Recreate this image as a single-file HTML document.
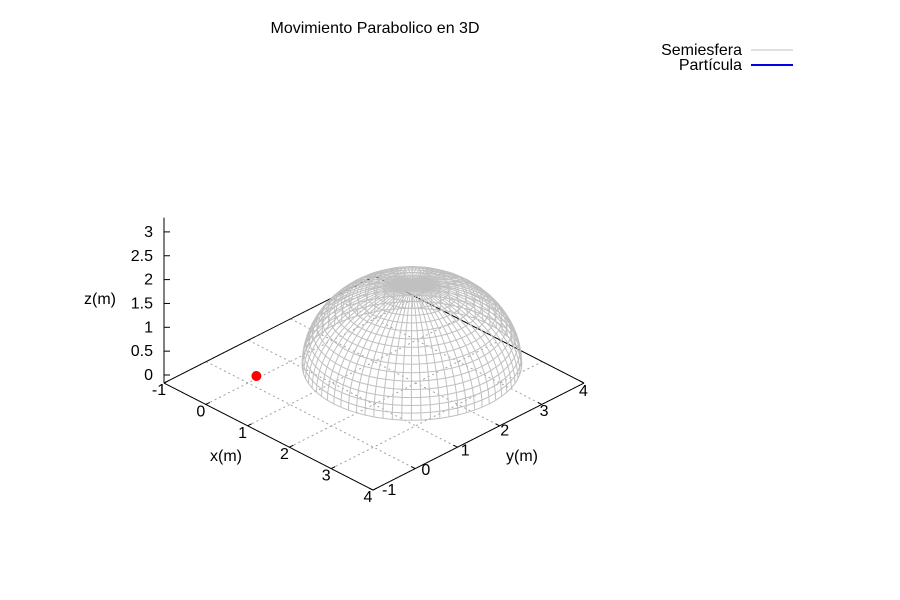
<!DOCTYPE html>
<html><head><meta charset="utf-8"><style>
body{margin:0;background:#fff}
svg{display:block;font-family:"Liberation Sans",sans-serif;font-size:16px}
</style></head><body>
<svg id="chart" width="900" height="600" viewBox="0 0 900 600">
<text x="375" y="33" text-anchor="middle">Movimiento Parabolico en 3D</text>
<g>
<text x="742" y="55" text-anchor="end">Semiesfera</text>
<line x1="751" y1="50" x2="793" y2="50" stroke="#c0c0c0" stroke-width="1"/>
<text x="742" y="70" text-anchor="end">Partícula</text>
<line x1="751" y1="65" x2="793" y2="65" stroke="#0000e0" stroke-width="2"/>
</g>
<g id="plot"></g>
<text x="226" y="461" text-anchor="middle">x(m)</text>
<text x="522" y="461" text-anchor="middle">y(m)</text>
<text x="100" y="304" text-anchor="middle">z(m)</text>
</svg>
<script>
const xTicks=[-1,0,1,2,3,4];
const yTicks=[-1,0,1,2,3,4];
const zTicks=[0,0.5,1,1.5,2,2.5,3];
const zTickLabels=["0","0.5","1","1.5","2","2.5","3"];
const particleX=[0.1];
const particleY=[0.1];
const particleZ=[0];
const domeCenter=[1.7,2.2,0];
const domeRadiusXY=[1.85];
const domeRadiusZ=[1.68];
const zBase=-0.168;

const NS='http://www.w3.org/2000/svg';
const g=document.getElementById('plot');
function P(x,y,z){return [164+41.8*(x+1)+42.2*(y+1), 375+21.4*(x-y)-47.7*z];}
function el(tag,attrs){const e=document.createElementNS(NS,tag);for(const k in attrs)e.setAttribute(k,attrs[k]);g.appendChild(e);return e;}
function line(a,b,st,w,dash){return el('line',{x1:a[0],y1:a[1],x2:b[0],y2:b[1],stroke:st,'stroke-width':w||1,'stroke-dasharray':dash||'none'});}

xTicks.forEach(v=>{const l=line(P(v,-1,zBase),P(v,4,zBase),'#a0a0a0',1,'2,3');

});
yTicks.forEach(v=>{const l=line(P(-1,v,zBase),P(4,v,zBase),'#a0a0a0',1,'2,3');

});
let b1=line(P(-1,-1,zBase),P(-1,4,zBase),'#000',1);


let b2=line(P(-1,4,zBase),P(4,4,zBase),'#000',1);



const cx=domeCenter[0],cy=domeCenter[1],cz=domeCenter[2],r=domeRadiusXY[0],rz=domeRadiusZ[0];
const NM=72,NL=18;
let d='';
for(let i=0;i<=NL;i++){const phi=i/NL*Math.PI/2;
  for(let j=0;j<=NM;j++){const th=j/NM*2*Math.PI;
    const p=P(cx+r*Math.cos(phi)*Math.cos(th),cy+r*Math.cos(phi)*Math.sin(th),cz+rz*Math.sin(phi));
    d+=(j?'L':'M')+p[0].toFixed(1)+' '+p[1].toFixed(1);}}
for(let j=0;j<NM;j++){const th=j/NM*2*Math.PI;
  for(let i=0;i<=NL;i++){const phi=i/NL*Math.PI/2;
    const p=P(cx+r*Math.cos(phi)*Math.cos(th),cy+r*Math.cos(phi)*Math.sin(th),cz+rz*Math.sin(phi));
    d+=(i?'L':'M')+p[0].toFixed(1)+' '+p[1].toFixed(1);}}
const dome=el('path',{d:d,fill:'none',stroke:'#c0c0c0','stroke-width':1});



let f1=line(P(-1,-1,zBase),P(4,-1,zBase),'#000',1);


let f2=line(P(4,-1,zBase),P(4,4,zBase),'#000',1);


const zTop=P(-1,-1,3.3);
let za=line(P(-1,-1,zBase),zTop,'#000',1);



xTicks.forEach(v=>{const p=P(v,-1,zBase);
  const t=line(p,[p[0]+4,p[1]-2],'#000',1);
  
  
  const tx=el('text',{x:p[0]-5,y:p[1]+12,'text-anchor':'middle'});tx.textContent=v;
  
  });
yTicks.forEach(v=>{const p=P(4,v,zBase);
  const t=line(p,[p[0]-4,p[1]-2],'#000',1);
  
  
  const tx=el('text',{x:p[0]+9-2.8*(v+1),y:p[1]+5+1.6*(v+1),'text-anchor':'start'});tx.textContent=v;
  
  });
zTicks.forEach((v,i)=>{const p=P(-1,-1,v);
  const t=line(p,[p[0]+6,p[1]],'#000',1);
  
  
  const tx=el('text',{x:p[0]-11,y:p[1]+5,'text-anchor':'end'});tx.textContent=zTickLabels[i];
  
  });

particleX.forEach((x,i)=>{const p=P(x,particleY[i],particleZ[i]);
  const c=el('circle',{cx:p[0],cy:p[1]+1,r:5,fill:'#ff0000'});
  
  });
</script>
</body></html>
